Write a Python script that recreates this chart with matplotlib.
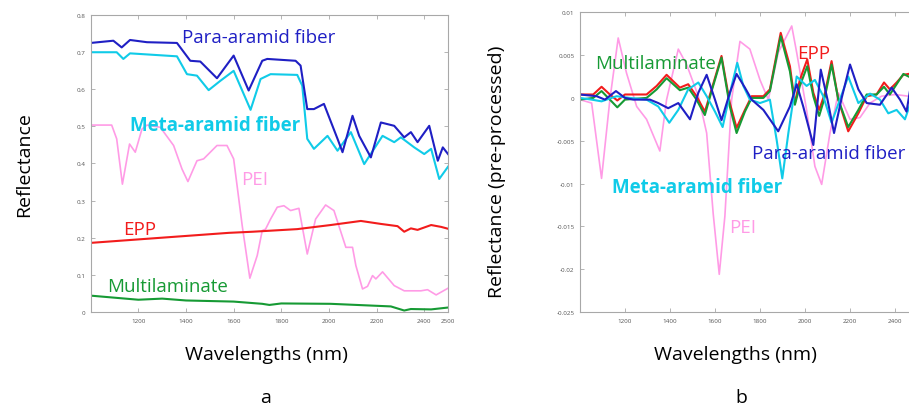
import numpy as np
import matplotlib
matplotlib.use("Agg")
import matplotlib.pyplot as plt

plt.rcParams['font.family'] = ['Open Sans', 'DejaVu Sans']

# ---- panel a: raw reflectance ----
para_nm = [1000, 1095, 1130, 1165, 1236, 1362, 1418, 1460, 1530, 1600, 1663, 1720, 1741,
           1860, 1881, 1909, 1937, 1979, 2036, 2057, 2099, 2127, 2176, 2218, 2274, 2316,
           2344, 2372, 2421, 2457, 2478, 2500]
para_r = [0.724, 0.730, 0.712, 0.732, 0.726, 0.724, 0.676, 0.674, 0.629, 0.690, 0.596, 0.676,
          0.681, 0.676, 0.663, 0.546, 0.546, 0.560, 0.466, 0.430, 0.528, 0.474, 0.416, 0.510,
          0.501, 0.470, 0.484, 0.457, 0.501, 0.407, 0.443, 0.425]

meta_nm = [1000, 1109, 1137, 1165, 1362, 1404, 1446, 1495, 1544, 1600, 1671, 1713, 1755,
           1867, 1888, 1909, 1937, 1994, 2036, 2092, 2148, 2225, 2274, 2302, 2358, 2400,
           2429, 2463, 2500]
meta_r = [0.699, 0.699, 0.681, 0.696, 0.688, 0.640, 0.636, 0.597, 0.622, 0.649, 0.544, 0.627,
          0.640, 0.638, 0.609, 0.466, 0.439, 0.474, 0.434, 0.484, 0.398, 0.474, 0.457, 0.470,
          0.443, 0.425, 0.439, 0.358, 0.391]

pei_nm = [1000, 1088, 1109, 1133, 1163, 1187, 1215, 1236, 1292, 1348, 1383, 1408, 1446, 1474,
          1530, 1572, 1600, 1636, 1668, 1699, 1720, 1734, 1755, 1783, 1811, 1839, 1874, 1909,
          1944, 1986, 2021, 2071, 2099, 2113, 2141, 2162, 2183, 2197, 2225, 2274, 2316, 2386,
          2414, 2450, 2500]
pei_r = [0.503, 0.503, 0.466, 0.344, 0.452, 0.430, 0.492, 0.503, 0.497, 0.448, 0.385, 0.351,
         0.407, 0.412, 0.448, 0.448, 0.412, 0.232, 0.091, 0.152, 0.219, 0.223, 0.250, 0.282,
         0.286, 0.273, 0.279, 0.156, 0.250, 0.288, 0.273, 0.174, 0.174, 0.125, 0.062, 0.069,
         0.098, 0.089, 0.108, 0.071, 0.057, 0.057, 0.060, 0.046, 0.064]

epp_nm = [1000, 1300, 1580, 1680, 1867, 2007, 2134, 2218, 2288, 2316, 2344, 2372, 2429, 2471, 2500]
epp_r = [0.186, 0.200, 0.213, 0.216, 0.223, 0.234, 0.245, 0.237, 0.231, 0.216, 0.225, 0.221,
         0.234, 0.229, 0.224]

multi_nm = [1000, 1200, 1300, 1400, 1600, 1720, 1750, 1800, 2007, 2260, 2316, 2344, 2429, 2500]
multi_r = [0.044, 0.033, 0.036, 0.031, 0.028, 0.022, 0.019, 0.023, 0.022, 0.015, 0.004, 0.008,
           0.007, 0.012]

# ---- panel b: pre-processed ----
pei2_nm = [1000, 1052, 1096, 1133, 1170, 1207, 1252, 1296, 1355, 1385, 1437, 1474, 1526, 1563,
           1592, 1619, 1644, 1674, 1711, 1755, 1800, 1837, 1881, 1941, 1963, 2007, 2044, 2074,
           2111, 2148, 2200, 2244, 2289, 2340, 2400, 2460]
pei2_r = [-0.0002, -0.0006, -0.0094, -0.0002, 0.0070, 0.0029, -0.0010, -0.0025, -0.0062, -0.0002,
          0.0057, 0.0039, 0.0002, -0.0041, -0.0135, -0.0206, -0.0138, -0.0002, 0.0066, 0.0057,
          0.0021, -0.0002, 0.0053, 0.0084, 0.0053, -0.0014, -0.0080, -0.0101, -0.0041, 0.0006,
          -0.0025, -0.0023, -0.0006, 0.0002, 0.0004, 0.0002]

epp2_nm = [1000, 1059, 1096, 1133, 1166, 1200, 1296, 1341, 1385, 1444, 1481, 1518, 1555, 1585,
           1629, 1666, 1696, 1733, 1763, 1815, 1844, 1892, 1933, 1955, 1977, 2010, 2037, 2063,
           2089, 2118, 2148, 2192, 2237, 2274, 2318, 2351, 2377, 2407, 2437, 2460]
epp2_r = [0.0004, 0.0004, 0.0013, 0.0004, -0.0003, 0.0004, 0.0004, 0.0014, 0.0027, 0.0012,
          0.0016, 0.0002, -0.0016, 0.0010, 0.0049, -0.0006, -0.0035, -0.0014, 0.0002, 0.0002,
          0.0010, 0.0076, 0.0037, -0.0006, 0.0021, 0.0045, 0.0006, -0.0014, 0.0006, 0.0043,
          -0.0002, -0.0039, -0.0018, 0.0002, 0.0004, 0.0018, 0.0010, 0.0018, 0.0027, 0.0028]

multi2_nm = epp2_nm
multi2_r = [-0.0002, 0.0000, 0.0008, -0.0002, -0.0011, -0.0002, 0.0000, 0.0010, 0.0023, 0.0009,
            0.0012, -0.0002, -0.0020, 0.0008, 0.0047, -0.0010, -0.0041, -0.0016, 0.0000, 0.0000,
            0.0008, 0.0072, 0.0031, -0.0008, 0.0014, 0.0037, 0.0002, -0.0021, 0.0002, 0.0039,
            -0.0002, -0.0034, -0.0014, 0.0004, 0.0004, 0.0013, 0.0004, 0.0016, 0.0028, 0.0025]

para2_nm = [1000, 1074, 1111, 1160, 1200, 1237, 1311, 1348, 1392, 1437, 1489, 1526, 1563, 1600,
            1629, 1666, 1696, 1733, 1763, 1815, 1881, 1933, 1963, 1992, 2037, 2070, 2100, 2129,
            2163, 2200, 2237, 2274, 2333, 2385, 2422, 2451, 2480]
para2_r = [0.0004, 0.0002, -0.0002, 0.0008, 0.0000, -0.0002, -0.0002, -0.0006, -0.0012, -0.0006,
           -0.0025, 0.0006, 0.0027, -0.0002, -0.0026, 0.0006, 0.0028, 0.0012, -0.0002, -0.0014,
           -0.0039, -0.0010, 0.0016, -0.0010, -0.0055, 0.0033, -0.0002, -0.0041, 0.0000, 0.0039,
           0.0010, -0.0006, -0.0008, 0.0012, -0.0002, -0.0016, 0.0030]

meta2_nm = [1000, 1052, 1096, 1163, 1222, 1296, 1348, 1397, 1437, 1481, 1526, 1563, 1600, 1634,
            1674, 1699, 1726, 1755, 1800, 1844, 1874, 1899, 1926, 1963, 2007, 2044, 2081, 2118,
            2155, 2192, 2237, 2289, 2333, 2370, 2407, 2444, 2470]
meta2_r = [0.0000, -0.0002, -0.0004, 0.0002, 0.0000, -0.0002, -0.0010, -0.0029, -0.0014, 0.0010,
           0.0018, 0.0002, -0.0016, -0.0034, 0.0014, 0.0041, 0.0014, -0.0002, -0.0006, -0.0002,
           -0.0049, -0.0094, -0.0041, 0.0025, 0.0014, 0.0021, 0.0002, -0.0029, -0.0002, 0.0025,
           -0.0006, 0.0005, -0.0002, -0.0018, -0.0014, -0.0025, -0.0005]

c_para = '#1f1fc4'
c_meta = '#10cbe8'
c_pei = '#ff9be6'
c_epp = '#f21c1c'
c_multi = '#169a34'
grey = '#a8a8a8'


def style_axes(ax):
    for s in ax.spines.values():
        s.set_color(grey)
        s.set_linewidth(0.8)
    ax.tick_params(direction='in', length=3, width=0.6, color=grey,
                   labelsize=4.5, labelcolor='#555555', top=True, right=True, pad=4)


fig = plt.figure(figsize=(9.09, 4.10), dpi=100)

# panel a
ax1 = fig.add_axes([0.0998, 0.2366, 0.3931, 0.7251])
ax1.plot(pei_nm, pei_r, color=c_pei, lw=1.2)
ax1.plot(epp_nm, epp_r, color=c_epp, lw=1.5)
ax1.plot(multi_nm, multi_r, color=c_multi, lw=1.5)
ax1.plot(meta_nm, meta_r, color=c_meta, lw=1.5)
ax1.plot(para_nm, para_r, color=c_para, lw=1.5)
ax1.set_xlim(1000, 2500)
ax1.set_ylim(0, 0.8)
ax1.set_xticks([1200, 1400, 1600, 1800, 2000, 2200, 2400, 2500])
ax1.set_yticks(np.arange(0, 0.81, 0.1))
ax1.set_yticklabels(['0', '0.1', '0.2', '0.3', '0.4', '0.5', '0.6', '0.7', '0.8'])
style_axes(ax1)

lab = 13.5
ax1.text(1385, 0.727, 'Para-aramid fiber', color=c_para, fontsize=lab)
ax1.text(1165, 0.490, 'Meta-aramid fiber', color=c_meta, fontsize=lab, fontweight='bold')
ax1.text(1630, 0.344, 'PEI', color=c_pei, fontsize=lab)
ax1.text(1138, 0.210, 'EPP', color=c_epp, fontsize=lab)
ax1.text(1067, 0.057, 'Multilaminate', color=c_multi, fontsize=lab)

# panel b
ax2 = fig.add_axes([0.638, 0.2366, 0.3714, 0.731])
ax2.plot(pei2_nm, pei2_r, color=c_pei, lw=1.2)
ax2.plot(epp2_nm, epp2_r, color=c_epp, lw=1.5)
ax2.plot(multi2_nm, multi2_r, color=c_multi, lw=1.5)
ax2.plot(meta2_nm, meta2_r, color=c_meta, lw=1.5)
ax2.plot(para2_nm, para2_r, color=c_para, lw=1.5)
ax2.set_xlim(1000, 2500)
ax2.set_ylim(-0.025, 0.01)
ax2.set_xticks([1200, 1400, 1600, 1800, 2000, 2200, 2400])
yt = [0.01, 0.005, 0, -0.005, -0.01, -0.015, -0.02, -0.025]
ax2.set_yticks(yt)
ax2.set_yticklabels(['0.01', '0.005', '0', '-0.005', '-0.01', '-0.015', '-0.02', '-0.025'])
style_axes(ax2)

ax2.text(1067, 0.0035, 'Multilaminate', color=c_multi, fontsize=lab)
ax2.text(1964, 0.0047, 'EPP', color=c_epp, fontsize=lab)
ax2.text(1765, -0.0070, 'Para-aramid fiber', color=c_para, fontsize=lab)
ax2.text(1142, -0.0110, 'Meta-aramid fiber', color=c_meta, fontsize=lab, fontweight='bold')
ax2.text(1662, -0.0157, 'PEI', color=c_pei, fontsize=lab)

# axis labels and panel letters
fig.text(0.027, 0.598, 'Reflectance', rotation=90, ha='center', va='center', fontsize=14)
fig.text(0.547, 0.58, 'Reflectance (pre-processed)', rotation=90, ha='center', va='center',
         fontsize=14)
fig.text(0.293, 0.134, 'Wavelengths (nm)', ha='center', va='center', fontsize=14)
fig.text(0.809, 0.134, 'Wavelengths (nm)', ha='center', va='center', fontsize=14)
fig.text(0.292, 0.03, 'a', ha='center', va='center', fontsize=14)
fig.text(0.816, 0.03, 'b', ha='center', va='center', fontsize=14)

fig.savefig('out.png', dpi=100)
